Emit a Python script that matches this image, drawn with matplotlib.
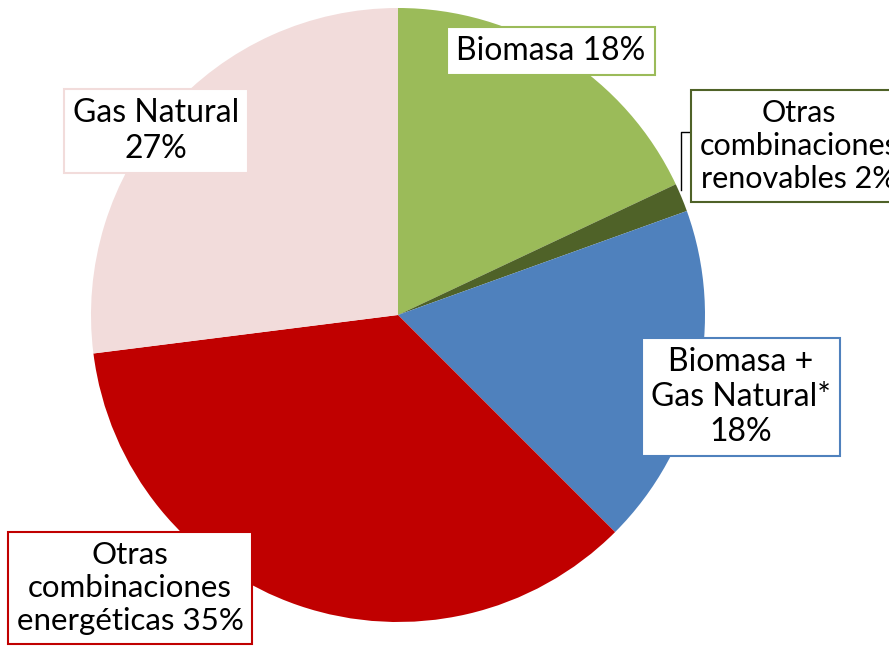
import matplotlib.pyplot as plt

labels = ['Biomasa 18%', 'Otras\ncombinaciones\nrenovables 2%', 'Biomasa +\nGas Natural*\n18%',
          'Otras\ncombinaciones\nenergéticas 35%', 'Gas Natural\n27%']
values = [18, 1.5, 18, 35.5, 27]
colors = ['#9BBB59', '#4F6228', '#4F81BD', '#C00000', '#F2DCDB']
edge_colors = ['#9BBB59', '#4F6228', '#4F81BD', '#C00000', '#F2DCDB']
font_sizes = [23, 22, 23, 22.5, 23]

# label box centres, in pixels from the top-left of the picture
label_px = [(551, 51), (799, 146), (741, 397), (130, 588), (156, 131)]

W, H = 889, 653
cx, cy, r = 398, 315, 307


def to_data(px, py):
    return (px - cx) / r, (cy - py) / r


fig = plt.figure(figsize=(W / 100, H / 100), dpi=100)
ax = fig.add_axes([0, 0, 1, 1])
ax.pie(values, colors=colors, startangle=90, counterclock=False,
       wedgeprops={'linewidth': 0})
ax.set_xlim(-cx / r, (W - cx) / r)
ax.set_ylim(-(H - cy) / r, cy / r)
ax.set_aspect('auto')
ax.axis('off')

for lab, (px, py), ec, fs in zip(labels, label_px, edge_colors, font_sizes):
    x, y = to_data(px, py)
    ax.text(x, y, lab, ha='center', va='center', fontsize=fs, family='Lato',
            linespacing=1.22, color='black',
            bbox=dict(boxstyle='square,pad=0.28', fc='white', ec=ec, lw=1.5))

# leader line for the small slice
lx, ly = zip(*[to_data(691, 132), to_data(681, 132), to_data(681, 190)])
ax.plot(lx, ly, color='black', lw=1)

fig.savefig('out.png', dpi=100)
